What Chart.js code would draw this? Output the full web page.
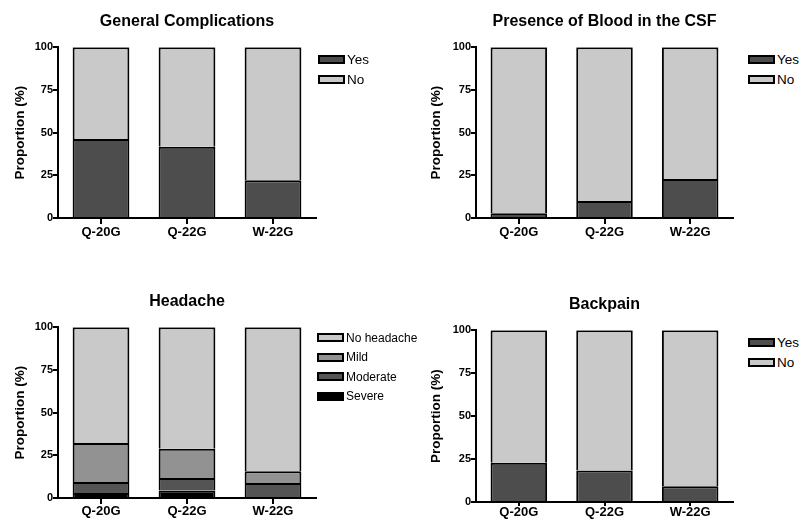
<!DOCTYPE html>
<html>
<head>
<meta charset="utf-8">
<script src="https://cdn.jsdelivr.net/npm/chart.js@4/dist/chart.umd.min.js"></script>
<style>
  body { margin: 0; background: #fff; }
  .page { position: relative; width: 803px; height: 520px; overflow: hidden; }
  canvas { position: absolute; }
  .chart-legend { position: absolute; font-family: 'Liberation Sans', Arial, sans-serif; color: #000; }
  .key-container { display: flex; align-items: center; }
  .key-color-box { width: 23px; height: 5px; border: 2px solid #000; margin-right: 2px; }
</style>
</head>
<body>
<div class="page" id="page"></div>
<script>
const groups = ['Q-20G', 'Q-22G', 'W-22G'];
const yTicks = [0, 25, 50, 75, 100];

const complicationsYes = [46.2, 41.7, 22.1];
const complicationsNo = [53.8, 58.3, 77.9];

const bloodYes = [2.8, 10.0, 22.9];
const bloodNo = [97.2, 90.0, 77.1];

const headacheSevere = [2.9, 4.4, 0.6];
const headacheModerate = [6.5, 7.3, 8.2];
const headacheMild = [22.8, 17.1, 6.8];
const headacheNone = [67.8, 71.2, 84.4];

const backpainYes = [22.8, 18.3, 9.1];
const backpainNo = [77.2, 81.7, 90.9];

const yesColor = '#4d4d4d';
const noColor = '#c9c9c9';
const mildColor = '#929292';
const moderateColor = '#545454';
const severeColor = '#000000';

Chart.defaults.font.family = "'Liberation Sans', Arial, sans-serif";
Chart.defaults.color = '#000';

const page = document.getElementById('page');

const renderLegend = (keys, box) => {
  const chartLegend = document.createElement('div');
  chartLegend.className = 'chart-legend';
  chartLegend.style.left = box.left + 'px';
  chartLegend.style.top = box.top + 'px';
  chartLegend.style.fontSize = box.fontSize + 'px';
  keys.forEach((k) => {
    const key = document.createElement('div');
    key.className = 'key-container';
    key.style.height = box.rowHeight + 'px';
    key.innerHTML = `<div class="key-color-box" style="background-color: ${k.color}"></div><div class="key">${k.label}</div>`;
    chartLegend.append(key);
  });
  page.append(chartLegend);
};

const renderChart = (title, datasets, box) => {
  const canvas = document.createElement('canvas');
  canvas.width = box.width;
  canvas.height = box.height;
  canvas.style.left = box.left + 'px';
  canvas.style.top = box.top + 'px';
  page.append(canvas);

  new Chart(canvas, {
    type: 'bar',
    data: {
      labels: groups,
      datasets: datasets.map((d) => ({
        label: d.label,
        data: d.data,
        backgroundColor: d.color,
        borderColor: '#000',
        borderWidth: 2,
        borderSkipped: 'start',
        barPercentage: 0.66,
        categoryPercentage: 1,
      })),
    },
    options: {
      responsive: false,
      animation: false,
      layout: { padding: { left: 0, right: 4, top: 0, bottom: 0 } },
      plugins: {
        legend: { display: false },
        tooltip: { enabled: false },
        title: {
          display: true,
          text: title,
          fullSize: false,
          color: '#000',
          font: { size: 16, weight: 'bold' },
          padding: { top: 12, bottom: 16 },
        },
      },
      scales: {
        x: {
          stacked: true,
          offset: true,
          grid: { display: true, drawOnChartArea: false, offset: false, tickLength: box.xTickLen, lineWidth: 2, color: '#000' },
          border: { display: true, width: 2, color: '#000' },
          ticks: { color: '#000', font: { size: 13, weight: 'bold' }, padding: box.xLabelPad },
          afterFit: (scale) => { scale.height = 30; },
        },
        y: {
          stacked: true,
          min: 0,
          max: 100,
          afterBuildTicks: (scale) => { scale.ticks = yTicks.map((v) => ({ value: v })); },
          grid: { display: true, drawOnChartArea: false, tickLength: 5, lineWidth: 2, color: '#000' },
          border: { display: true, width: 2, color: '#000' },
          ticks: { color: '#000', font: { size: 11, weight: 'bold' }, padding: 0 },
          title: {
            display: true,
            text: 'Proportion (%)',
            color: '#000',
            font: { size: 13.5, weight: 'bold' },
            padding: { top: box.yTitlePad, bottom: 0 },
          },
          afterFit: (scale) => { scale.width = box.axisWidth; },
        },
      },
    },
  });
};

// General Complications
renderChart('General Complications', [
  { label: 'Yes', data: complicationsYes, color: yesColor },
  { label: 'No', data: complicationsNo, color: noColor },
], { left: 0, top: 0, width: 320, height: 248, axisWidth: 58, yTitlePad: 12, xTickLen: 6, xLabelPad: 1 });
renderLegend([
  { label: 'Yes', color: yesColor },
  { label: 'No', color: noColor },
], { left: 318, top: 49, rowHeight: 20, fontSize: 13.5 });

// Presence of Blood in the CSF
renderChart('Presence of Blood in the CSF', [
  { label: 'Yes', data: bloodYes, color: yesColor },
  { label: 'No', data: bloodNo, color: noColor },
], { left: 418, top: 0, width: 319, height: 248, axisWidth: 58, yTitlePad: 10.5, xTickLen: 6, xLabelPad: 1 });
renderLegend([
  { label: 'Yes', color: yesColor },
  { label: 'No', color: noColor },
], { left: 748, top: 49, rowHeight: 20.5, fontSize: 13.5 });

// Headache
renderChart('Headache', [
  { label: 'Severe', data: headacheSevere, color: severeColor },
  { label: 'Moderate', data: headacheModerate, color: moderateColor },
  { label: 'Mild', data: headacheMild, color: mildColor },
  { label: 'No headache', data: headacheNone, color: noColor },
], { left: 0, top: 280, width: 320, height: 248, axisWidth: 58, yTitlePad: 12, xTickLen: 6, xLabelPad: 0 });
renderLegend([
  { label: 'No headache', color: noColor },
  { label: 'Mild', color: mildColor },
  { label: 'Moderate', color: moderateColor },
  { label: 'Severe', color: severeColor },
], { left: 317, top: 328, rowHeight: 19.5, fontSize: 12 });

// Backpain
renderChart('Backpain', [
  { label: 'Yes', data: backpainYes, color: yesColor },
  { label: 'No', data: backpainNo, color: noColor },
], { left: 418, top: 283, width: 319, height: 249, axisWidth: 58, yTitlePad: 10.5, xTickLen: 4, xLabelPad: -1 });
renderLegend([
  { label: 'Yes', color: yesColor },
  { label: 'No', color: noColor },
], { left: 748, top: 332.5, rowHeight: 20, fontSize: 13.5 });
</script>
</body>
</html>
